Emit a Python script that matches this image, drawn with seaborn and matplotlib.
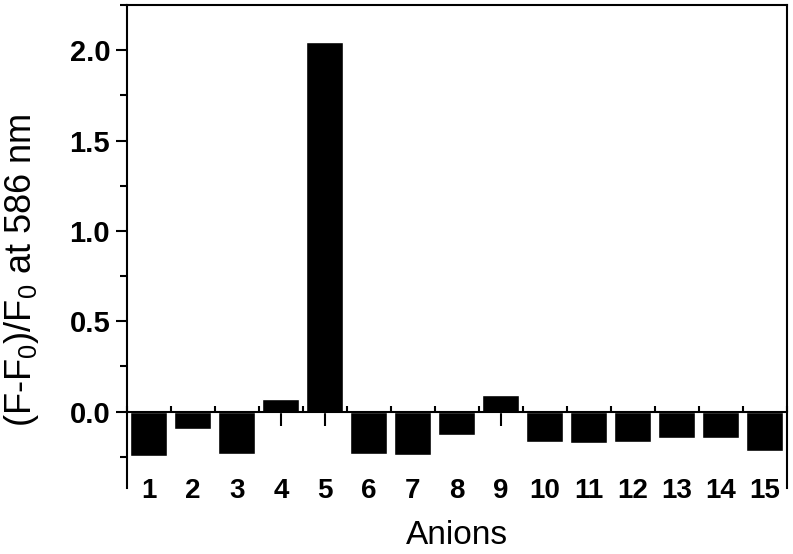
import numpy as np
import pandas as pd
import matplotlib
matplotlib.use("Agg")
import matplotlib.pyplot as plt
import seaborn as sns

# ==========================================
# DATA
# ==========================================
anions = [str(i) for i in range(1, 16)]
response = [-0.245, -0.095, -0.235, 0.068, 2.045, -0.235, -0.238, -0.13,
            0.093, -0.17, -0.176, -0.167, -0.147, -0.147, -0.216]

df = pd.DataFrame({"Anions": anions, "Response": response})

# ==========================================
# PLOT
# ==========================================
sns.set_style("ticks")
plt.rcParams["font.family"] = ["Liberation Sans", "DejaVu Sans"]
plt.rcParams["mathtext.fontset"] = "custom"
plt.rcParams["mathtext.rm"] = "Liberation Sans"
plt.rcParams["mathtext.it"] = "Liberation Sans"
for key in ["text.color", "axes.labelcolor", "xtick.color", "ytick.color", "axes.edgecolor"]:
    plt.rcParams[key] = "black"

fig = plt.figure(figsize=(7.93, 5.54), dpi=100)
ax = fig.add_axes([0.160, 0.119, 0.832, 0.872])

sns.barplot(data=df, x="Anions", y="Response", order=anions,
            color="black", saturation=1, width=0.84, ax=ax)

ax.set_xlim(-0.5, 14.5)
ax.set_ylim(-0.423, 2.23)

# zero-line x axis, frame on the other three sides
for side in ["left", "right", "top"]:
    ax.spines[side].set_linewidth(1.5)
ax.spines["bottom"].set_position(("data", 0))
ax.spines["bottom"].set_linewidth(1.5)

ax.set_yticks([0.0, 0.5, 1.0, 1.5, 2.0])
ax.set_yticks(np.arange(-0.25, 2.3, 0.25), minor=True)
ax.set_yticklabels(["0.0", "0.5", "1.0", "1.5", "2.0"])
ax.set_xticks(np.arange(-0.5, 15, 1), minor=True)

ax.tick_params(axis="y", which="major", direction="out", length=8, width=1.5,
               labelsize=21, pad=4)
ax.tick_params(axis="y", which="minor", direction="out", length=5, width=1.5)
ax.tick_params(axis="x", which="major", direction="out", length=10, width=1.5,
               labelsize=20, pad=38)
ax.tick_params(axis="x", which="minor", direction="in", length=4, width=1.5)

for lbl in ax.get_xticklabels() + ax.get_yticklabels():
    lbl.set_fontweight("bold")

ax.set_xlabel("Anions", fontsize=24, labelpad=11)
ax.set_ylabel("(F-F$_0$)/F$_0$ at 586 nm", fontsize=26)
ax.yaxis.set_label_coords(-0.130, 0.451)

plt.savefig("out.png", dpi=100)
plt.close()
